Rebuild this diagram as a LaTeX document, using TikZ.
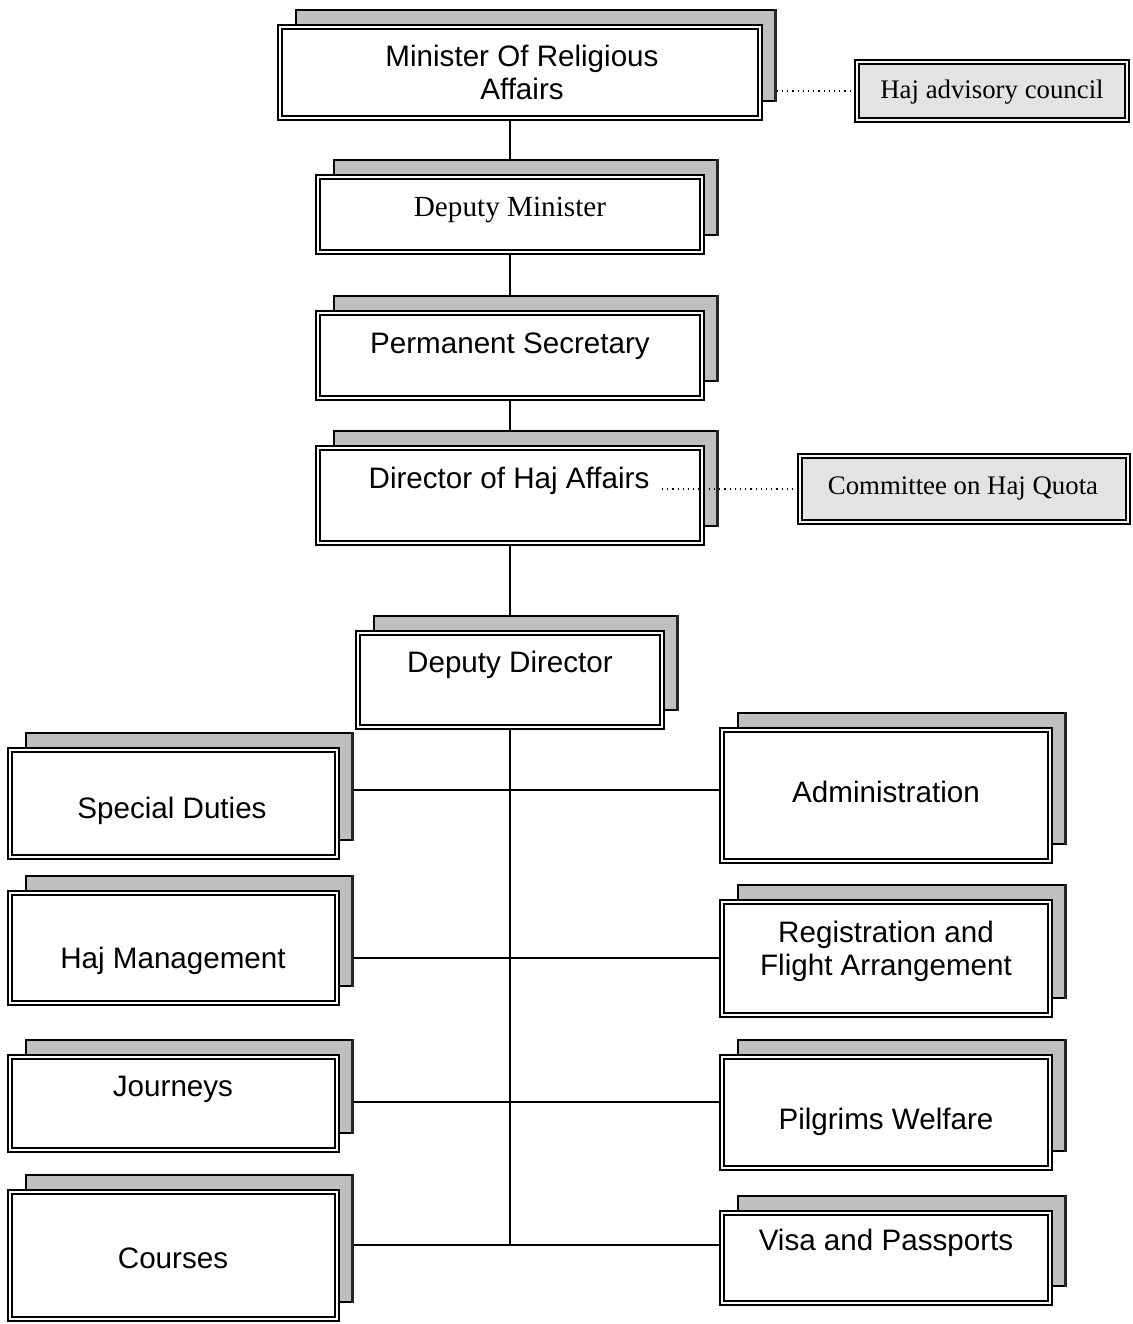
\documentclass[tikz,border=0pt]{standalone}
\usepackage{fontspec}
\setmainfont{Liberation Sans}
\newfontfamily\timesfont{Liberation Serif}
\pgfdeclarelayer{background}
\pgfsetlayers{background,main}
\tikzset{
 shadowbox/.style={draw=black, line width=0.8pt, fill=gray!50, inner sep=0pt},
 shadowedge/.style={line width=1.6pt, draw=black!85},
 frontbox/.style={draw=black, line width=0.7pt, double=white, double distance=1.3pt, fill=white, inner sep=0pt},
 advbox/.style={draw=black, line width=0.7pt, double=gray!8, double distance=1.3pt, fill=gray!22, inner sep=0pt},
 lab/.style={font=\fontsize{14.8}{16.5}\selectfont, align=center, inner sep=1pt},
 slab/.style={font=\timesfont\fontsize{14.6}{16.5}\selectfont, inner sep=1pt},
 advlab/.style={font=\timesfont\fontsize{13.4}{15}\selectfont, inner sep=1pt},
 conn/.style={line width=0.8pt},
 dotconn/.style={line width=0.6pt, dotted},
}
% name, cx, cy, w, h  (pixel units)
\newcommand\orgbox[5]{%
  \node[shadowbox, minimum width=#4*0.5pt, minimum height=#5*0.5pt] (#1S) at (#2+16,#3-17) {};
  \draw[shadowedge] ([xshift=-0.6pt]#1S.north east) -- ([xshift=-0.6pt]#1S.south east);
  \node[frontbox, minimum width=#4*0.5pt, minimum height=#5*0.5pt] (#1) at (#2,#3) {};
}
\begin{document}
\begin{tikzpicture}[x=0.5pt,y=-0.5pt]
\useasboundingbox (0,0) rectangle (1132,1324);
% boxes
\orgbox{min}{520}{72.5}{480}{91}
\orgbox{dm}{510}{214.5}{384}{75}
\orgbox{ps}{510}{355.5}{384}{85}
\orgbox{dir}{510}{495.5}{384}{95}
\orgbox{dd}{510}{680}{304}{94}
\orgbox{sd}{173.5}{803.5}{327}{107}
\orgbox{hm}{173.5}{948}{327}{110}
\orgbox{jo}{173.5}{1103.5}{327}{93}
\orgbox{co}{173.5}{1255.5}{327}{127}
\orgbox{ad}{886}{795.5}{328}{131}
\orgbox{rf}{886}{958.5}{328}{113}
\orgbox{pw}{886}{1112.5}{328}{111}
\orgbox{vp}{886}{1258}{328}{90}
\node[advbox, minimum width=135pt, minimum height=29pt] (hac) at (992,91) {};
\node[advbox, minimum width=164pt, minimum height=33pt] (chq) at (964,489) {};
% texts
\node[lab] (minT) at (522,72) {Minister Of Religious\\Affairs};
\node[slab] (dmT) at (510,210) {Deputy Minister};
\node[lab] (psT) at (510,346) {Permanent Secretary};
\node[lab] (dirT) at (509,481) {Director of Haj Affairs};
\node[lab] (ddT) at (510,665) {Deputy Director};
\node[lab] (sdT) at (172,811) {Special Duties};
\node[lab] (hmT) at (173,961) {Haj Management};
\node[lab] (joT) at (173,1089) {Journeys};
\node[lab] (coT) at (173,1258) {Courses};
\node[lab] (adT) at (886,792) {Administration};
\node[lab] (rfT) at (886,951) {Registration and\\Flight Arrangement};
\node[lab] (pwT) at (886,1122) {Pilgrims Welfare};
\node[lab] (vpT) at (886,1243) {Visa and Passports};
\node[advlab] (hacT) at (992,92) {Haj advisory council};
\node[advlab] (chqT) at (963,488) {Committee on Haj Quota};
% junctions
\coordinate (j1) at (510,790);
\coordinate (j2) at (510,958);
\coordinate (j3) at (510,1102);
\coordinate (j4) at (510,1245);
\coordinate (dirDot) at (662,489);
% connectors behind boxes
\begin{pgfonlayer}{background}
\draw[conn] (dm.north |- min.south) -- (dm.north);
\draw[conn] (dm.south) -- (ps.north);
\draw[conn] (ps.south) -- (dir.north);
\draw[conn] (dir.south) -- (dd.north);
\draw[conn] (dd.south) -- (j4);
\draw[conn] (j1 -| sdS.east) -- (j1 -| ad.west);
\draw[conn] (j2 -| hmS.east) -- (j2 -| rf.west);
\draw[conn] (j3 -| joS.east) -- (j3 -| pw.west);
\draw[conn] (j4 -| coS.east) -- (j4 -| vp.west);
\end{pgfonlayer}
% dotted links
\draw[dotconn] (hac.west -| minS.east) -- (hac.west);
\draw[dotconn] (dirDot) -- (chq.west);
\end{tikzpicture}
\end{document}
